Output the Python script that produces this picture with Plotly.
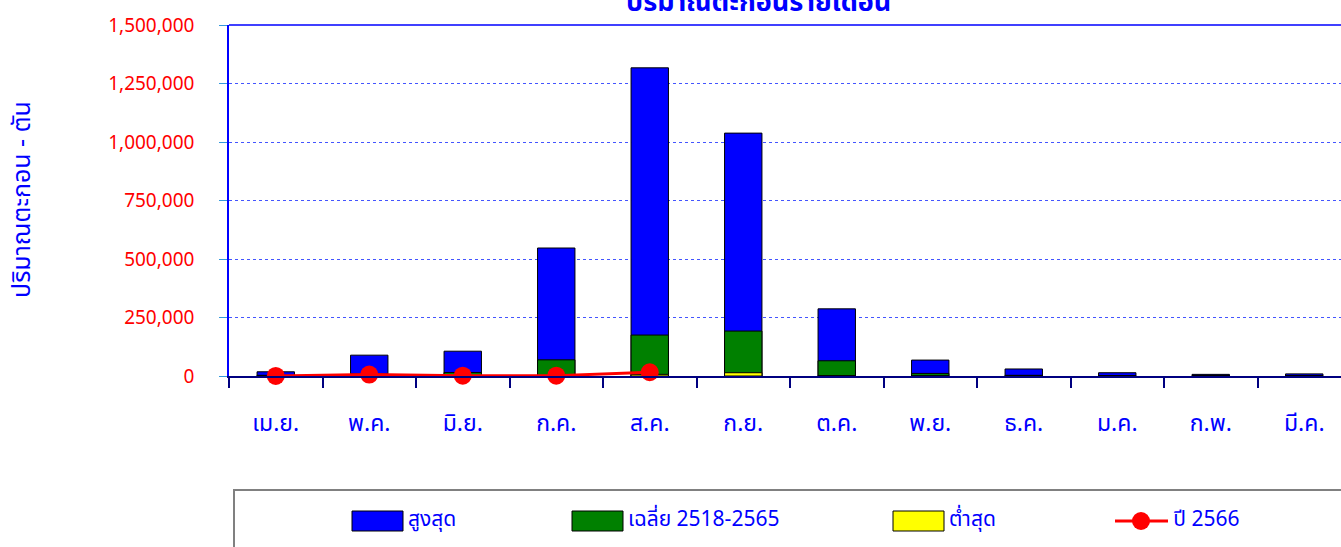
import plotly.graph_objects as go

months = ["เม.ย.", "พ.ค.", "มิ.ย.", "ก.ค.", "ส.ค.", "ก.ย.", "ต.ค.", "พ.ย.", "ธ.ค.", "ม.ค.", "ก.พ.", "มี.ค."]
max_vals = [18000, 89000, 106000, 547000, 1317000, 1038000, 287000, 68000, 30000, 14000, 7000, 9000]
avg_vals = [3000, 9000, 15000, 69000, 175000, 192000, 65000, 11000, 3000, 1500, 800, 1000]
min_vals = [0, 200, 500, 2000, 7000, 14000, 1500, 300, 100, 50, 20, 30]
months_2566 = months[:5]
vals_2566 = [500, 6000, 1500, 1500, 16000]

series_names = ["สูงสุด", "เฉลี่ย 2518-2565", "ต่ำสุด", "ปี 2566"]
title_text = "ปริมาณตะกอนรายเดือน"
ytitle_text = "ปริมาณตะกอน - ตัน"

FONT = "Tahoma, 'Noto Sans Thai', 'Leelawadee UI', 'Noto Sans', sans-serif"
BLUE = "#0000FF"

W, H = 1341, 547
L, T = 229, 25
PLOT_W = W - L
PLOT_H = 376 - T
B = H - 376

fig = go.Figure()
for vals, col, name in [(max_vals, "#0000FF", series_names[0]),
                        (avg_vals, "#008000", series_names[1]),
                        (min_vals, "#FFFF00", series_names[2])]:
    fig.add_trace(go.Bar(x=months, y=vals, name=name, width=0.4,
                         marker=dict(color=col, line=dict(color="black", width=1))))
fig.add_trace(go.Scatter(x=months_2566, y=vals_2566, name=series_names[3], mode="lines+markers",
                         cliponaxis=False,
                         line=dict(color="#FF0000", width=3),
                         marker=dict(color="#FF0000", size=18)))

cat_w = 93.5
xr_max = -0.5 + PLOT_W / cat_w

def px_x(p):
    return (p - L) / PLOT_W

def px_y(p):
    return (376 - p) / PLOT_H

shapes = [
    dict(type="line", xref="paper", yref="paper", x0=0, x1=1, y0=1, y1=1,
         line=dict(color=BLUE, width=1.5)),
    # legend box
    dict(type="rect", xref="paper", yref="paper", x0=px_x(234), x1=px_x(1360),
         y0=px_y(490), y1=px_y(570), line=dict(color="#808080", width=2), fillcolor="white"),
]
annotations = [
    dict(text="<b>" + title_text + "</b>", xref="paper", yref="paper", x=px_x(758), y=px_y(2),
         xanchor="center", yanchor="middle", showarrow=False,
         font=dict(family=FONT, size=27, color=BLUE)),
    dict(text=ytitle_text, xref="paper", yref="paper", x=px_x(22), y=px_y(200), textangle=-90,
         xanchor="center", yanchor="middle", showarrow=False,
         font=dict(family=FONT, size=25, color=BLUE)),
]
# legend entries
sw = [(352, "#0000FF"), (572, "#008000"), (893, "#FFFF00")]
for (x0, col), name in zip(sw, series_names[:3]):
    shapes.append(dict(type="rect", xref="paper", yref="paper", x0=px_x(x0), x1=px_x(x0 + 51),
                       y0=px_y(531), y1=px_y(511), fillcolor=col, line=dict(color="black", width=1)))
    annotations.append(dict(text=name, xref="paper", yref="paper", x=px_x(x0 + 54), y=px_y(519),
                            xanchor="left", yanchor="middle", showarrow=False,
                            font=dict(family=FONT, size=21, color=BLUE)))
shapes.append(dict(type="line", xref="paper", yref="paper", x0=px_x(1115), x1=px_x(1168),
                   y0=px_y(521), y1=px_y(521), line=dict(color="#FF0000", width=3)))
shapes.append(dict(type="circle", xref="paper", yref="paper", x0=px_x(1132), x1=px_x(1150),
                   y0=px_y(530), y1=px_y(512), fillcolor="#FF0000", line=dict(color="#FF0000", width=0)))
annotations.append(dict(text=series_names[3], xref="paper", yref="paper", x=px_x(1171), y=px_y(519),
                        xanchor="left", yanchor="middle", showarrow=False,
                        font=dict(family=FONT, size=21, color=BLUE)))

fig.update_layout(
    width=W, height=H,
    margin=dict(l=L, r=0, t=T, b=B, pad=0),
    paper_bgcolor="white", plot_bgcolor="white",
    barmode="overlay", showlegend=False,
    font=dict(family=FONT, color=BLUE),
    shapes=shapes, annotations=annotations,
    xaxis=dict(type="category", range=[-0.5, xr_max], showgrid=False, zeroline=False,
               showline=True, linecolor="#000080", linewidth=2,
               ticks="outside", tickson="boundaries", ticklen=10, tickcolor="#000080", tickwidth=2,
               ticklabelstandoff=25,
               tickfont=dict(family=FONT, size=23, color=BLUE)),
    yaxis=dict(range=[0, 1500000], dtick=250000, tickformat=",", showgrid=True,
               gridcolor="#4455FF", griddash="dot", gridwidth=1, zeroline=False,
               showline=True, linecolor=BLUE, linewidth=1.5,
               ticks="outside", ticklen=8, tickcolor="#3399DD", ticklabelstandoff=21,
               tickfont=dict(family=FONT, size=19, color="#FF0000")),
)

fig.write_html("out.html", config={"displayModeBar": False},
               post_script="document.body.style.margin='0';")
